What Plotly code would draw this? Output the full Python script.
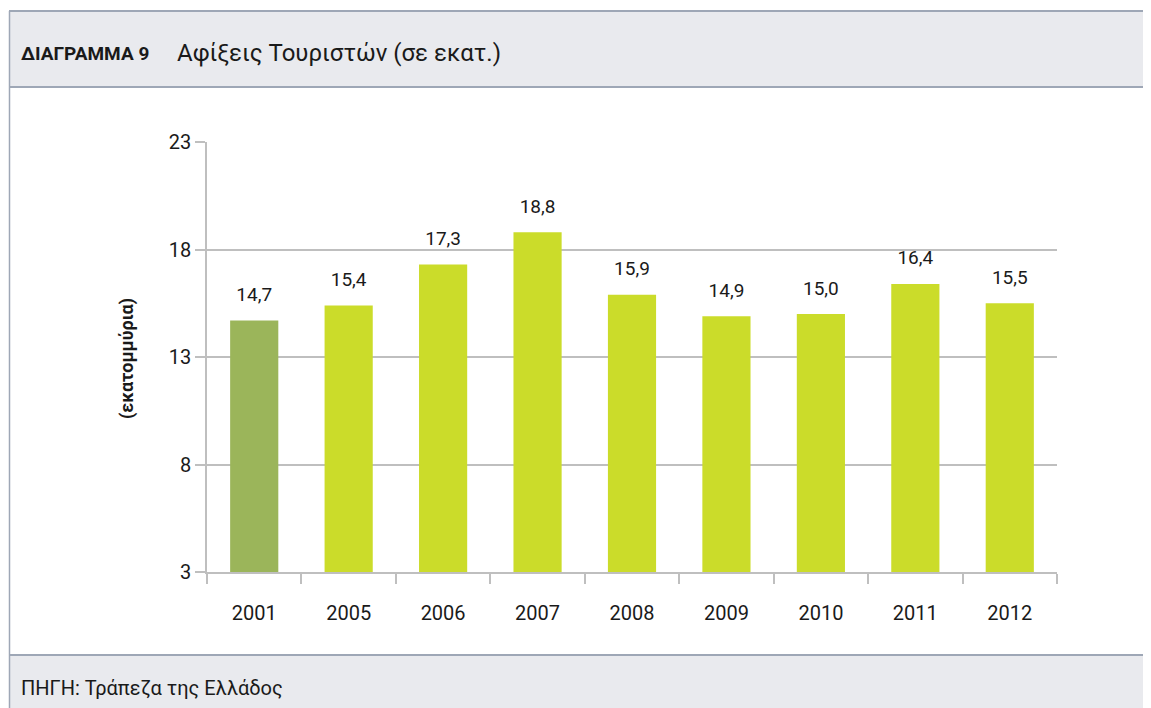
import plotly.graph_objects as go

years = ["2001", "2005", "2006", "2007", "2008", "2009", "2010", "2011", "2012"]
arrivals = [14.7, 15.4, 17.3, 18.8, 15.9, 14.9, 15.0, 16.4, 15.5]
bar_colors = ["#9bb55a"] + ["#cbdc2a"] * 8
y_ticks = [3, 8, 13, 18, 23]

labels = [f"{v:.1f}".replace(".", ",") for v in arrivals]

# the page body has an 8px margin; work in figure pixel coordinates
OFF = 8
W, H = 1151 - OFF, 708 - OFF
L, R, T, B = 207 - OFF, 1057 - OFF, 142 - OFF, 572 - OFF


def px(x):
    return (x - OFF - L) / (R - L)


def py(y):
    return (B - (y - OFF)) / (B - T)


fig = go.Figure()
fig.add_trace(go.Bar(
    x=years, y=arrivals, marker=dict(color=bar_colors, line=dict(width=0)),
    hoverinfo="x+y",
))
fig.add_trace(go.Scatter(
    x=years, y=arrivals, mode="markers+text", text=labels, textposition="top center",
    marker=dict(size=22, opacity=0), cliponaxis=False, hoverinfo="skip",
    textfont=dict(family="Roboto", size=19, color="#1a1a1a"),
))

shapes = []
shapes.append(dict(type="rect", xref="paper", yref="paper", x0=px(9), x1=px(1170), y0=py(11), y1=py(87),
                   fillcolor="#e9eaee", line=dict(width=0), layer="below"))
shapes.append(dict(type="rect", xref="paper", yref="paper", x0=px(9), x1=px(1170), y0=py(655), y1=py(720),
                   fillcolor="#e9eaee", line=dict(width=0), layer="below"))
for yy in (11, 87, 655):
    shapes.append(dict(type="line", xref="paper", yref="paper", x0=px(9), x1=px(1170), y0=py(yy), y1=py(yy),
                       line=dict(color="#9ea7b6", width=2)))
shapes.append(dict(type="line", xref="paper", yref="paper", x0=px(9.5), x1=px(9.5), y0=py(11), y1=py(720),
                   line=dict(color="#9ea7b6", width=1.5)))

annotations = [
    dict(xref="paper", yref="paper", x=px(19), y=py(54), xanchor="left", yanchor="middle",
         text="<b>ΔΙΑΓΡΑΜΜΑ 9</b>", showarrow=False,
         font=dict(family="Roboto", size=19, color="#1a1a1a")),
    dict(xref="paper", yref="paper", x=px(175), y=py(53), xanchor="left", yanchor="middle",
         text="Αφίξεις Τουριστών (σε εκατ.)", showarrow=False,
         font=dict(family="Roboto", size=24, color="#1a1a1a")),
    dict(xref="paper", yref="paper", x=px(19), y=py(688), xanchor="left", yanchor="middle",
         text="ΠΗΓΗ: Τράπεζα της Ελλάδος", showarrow=False,
         font=dict(family="Roboto", size=20, color="#1a1a1a")),
    dict(xref="paper", yref="paper", x=px(127), y=py(359), xanchor="center", yanchor="middle",
         text="<b>(εκατομμύρια)</b>", textangle=-90, showarrow=False,
         font=dict(family="Roboto", size=18, color="#1a1a1a")),
]

fig.update_layout(
    width=W, height=H,
    margin=dict(l=L, r=W - R, t=T, b=H - B, pad=0),
    paper_bgcolor="white", plot_bgcolor="white",
    showlegend=False, bargap=0.49,
    shapes=shapes, annotations=annotations,
    font=dict(family="Roboto", size=20, color="#1a1a1a"),
    xaxis=dict(type="category", range=[-0.5, len(years) - 0.5], autorange=False,
               showline=True, linecolor="#bfbfbf", linewidth=1.5,
               ticks="outside", tickson="boundaries", ticklen=10, tickcolor="#bfbfbf", tickwidth=1.5,
               showgrid=False, ticklabelstandoff=22,
               tickfont=dict(family="Roboto", size=20, color="#1a1a1a")),
    yaxis=dict(range=[3, 23], autorange=False, tickvals=y_ticks, showline=True, linecolor="#bfbfbf",
               linewidth=1.5, ticks="outside", ticklen=10, tickcolor="#bfbfbf", tickwidth=1.5,
               showgrid=True, gridcolor="#bfbfbf", gridwidth=1.5, zeroline=False,
               tickfont=dict(family="Roboto", size=20, color="#1a1a1a")),
)

fig.write_html("out.html")
